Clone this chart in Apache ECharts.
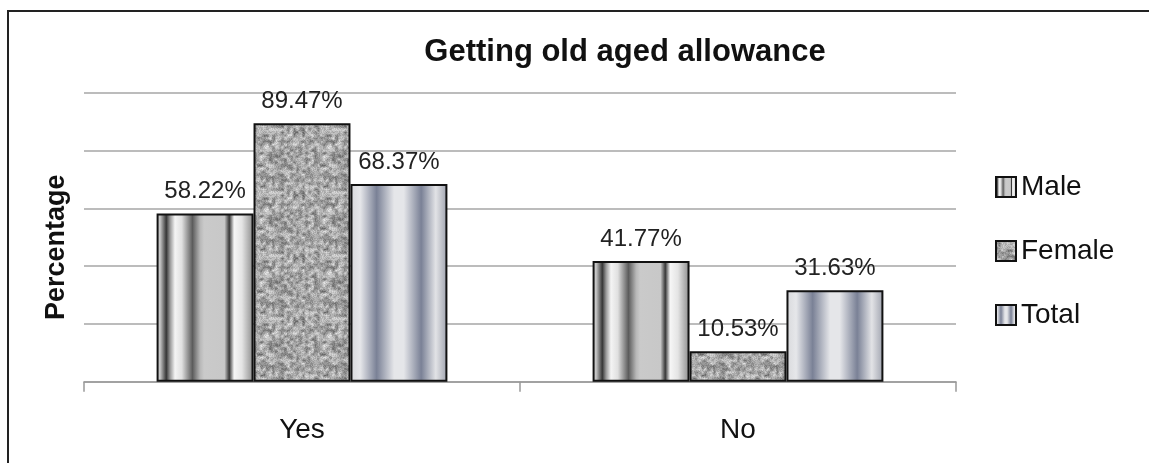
<!DOCTYPE html>
<html>
<head>
<meta charset="utf-8">
<script src="https://cdn.jsdelivr.net/npm/echarts@6/dist/echarts.min.js"></script>
<style>
  html, body { margin: 0; padding: 0; background: #fff; }
  #chart { width: 1149px; height: 463px; }
</style>
</head>
<body>
<div id="chart"></div>
<script>
const categories = ['Yes', 'No'];
const seriesNames = ['Male', 'Female', 'Total'];
const male = [58.22, 41.77];
const female = [89.47, 10.53];
const total = [68.37, 31.63];
const yTicks = [0, 20, 40, 60, 80, 100];

// stripe fills
const maleFill = new echarts.graphic.LinearGradient(0, 0, 1, 0, [
  { offset: 0, color: '#e4e4e4' },
  { offset: 0.04, color: '#bdbdbd' },
  { offset: 0.1, color: '#363636' },
  { offset: 0.14, color: '#9a9a9a' },
  { offset: 0.19, color: '#f4f4f4' },
  { offset: 0.26, color: '#e0e0e0' },
  { offset: 0.37, color: '#5c5c5c' },
  { offset: 0.45, color: '#b8b8b8' },
  { offset: 0.49, color: '#cacaca' },
  { offset: 0.7, color: '#c8c8c8' },
  { offset: 0.75, color: '#383838' },
  { offset: 0.8, color: '#f6f6f6' },
  { offset: 0.88, color: '#e4e4e4' },
  { offset: 1, color: '#8a8a8a' }
]);

const totalFill = new echarts.graphic.LinearGradient(0, 0, 1, 0, [
  { offset: 0, color: '#d8d9dc' },
  { offset: 0.1, color: '#e6e7ea' },
  { offset: 0.27, color: '#7a8196' },
  { offset: 0.45, color: '#e5e6e9' },
  { offset: 0.55, color: '#e5e6e9' },
  { offset: 0.73, color: '#7a8196' },
  { offset: 0.88, color: '#e2e3e6' },
  { offset: 1, color: '#9ea2ae' }
]);

// grey mottled texture for Female (deterministic hash noise)
function hash(x, y) {
  const s = Math.sin(x * 127.1 + y * 311.7) * 43758.5453;
  return s - Math.floor(s);
}
function makeNoise() {
  const size = 63, cell = 3, n = size / cell;
  const c = document.createElement('canvas');
  c.width = c.height = size;
  const ctx = c.getContext('2d');
  const img = ctx.createImageData(size, size);
  for (let y = 0; y < size; y++) {
    for (let x = 0; x < size; x++) {
      const gx = x / cell, gy = y / cell;
      const x0 = Math.floor(gx), y0 = Math.floor(gy);
      let fx = gx - x0, fy = gy - y0;
      fx = fx * fx * (3 - 2 * fx);
      fy = fy * fy * (3 - 2 * fy);
      const a = hash(x0 % n, y0 % n), b = hash((x0 + 1) % n, y0 % n);
      const c2 = hash(x0 % n, (y0 + 1) % n), d = hash((x0 + 1) % n, (y0 + 1) % n);
      const v = (a * (1 - fx) + b * fx) * (1 - fy) + (c2 * (1 - fx) + d * fx) * fy;
      const val = 0.7 * v + 0.3 * hash(x + 500, y + 900);
      const g = Math.round(95 + val * 140);
      const i = (y * size + x) * 4;
      img.data[i] = g; img.data[i + 1] = g; img.data[i + 2] = g; img.data[i + 3] = 255;
    }
  }
  ctx.putImageData(img, 0, 0);
  return c;
}
const femaleFill = { image: makeNoise(), repeat: 'repeat' };

const fills = [maleFill, femaleFill, totalFill];
const values = [male, female, total];

const chart = echarts.init(document.getElementById('chart'));

const option = {
  backgroundColor: '#fff',
  animation: false,
  textStyle: { fontFamily: 'Liberation Sans' },
  title: {
    text: 'Getting old aged allowance',
    left: 620,
    top: 32,
    textAlign: 'center',
    textStyle: { fontSize: 31, fontWeight: 'bold', color: '#111', fontFamily: 'Liberation Sans' }
  },
  graphic: [
    {
      type: 'rect',
      shape: { x: 8, y: 11, width: 1200, height: 500 },
      style: { fill: 'none', stroke: '#222', lineWidth: 2 },
      silent: true
    }
  ],
  legend: {
    orient: 'vertical',
    left: 990,
    top: 168,
    itemWidth: 20,
    itemHeight: 20,
    itemGap: 36,
    icon: 'rect',
    data: seriesNames,
    textStyle: { fontSize: 28, color: '#111' }
  },
  grid: { left: 84, right: 193, top: 92.7, bottom: 81.3 },
  xAxis: {
    type: 'category',
    data: categories,
    axisLine: { lineStyle: { color: '#999', width: 1.5 } },
    axisTick: { show: true, length: 10, lineStyle: { color: '#999', width: 1.5 } },
    axisLabel: { fontSize: 28, color: '#111', margin: 35 }
  },
  yAxis: {
    type: 'value',
    min: yTicks[0],
    max: yTicks[yTicks.length - 1],
    interval: yTicks[1] - yTicks[0],
    name: 'Percentage',
    nameLocation: 'middle',
    nameGap: 14,
    nameRotate: 90,
    nameTextStyle: { fontSize: 27, fontWeight: 'bold', color: '#111', padding: [0, 20, 0, 0] },
    axisLabel: { show: false },
    axisLine: { show: false },
    axisTick: { show: false },
    splitLine: { lineStyle: { color: '#a6a6a6', width: 1.5 } }
  },
  series: seriesNames.map((name, k) => ({
    name: name,
    type: 'bar',
    data: values[k],
    barGap: '0%',
    barCategoryGap: '33.3%',
    itemStyle: { color: fills[k], borderColor: '#111', borderWidth: 2 },
    label: {
      show: true,
      position: 'top',
      distance: 10,
      fontSize: 24,
      color: '#222',
      formatter: '{c}%'
    }
  }))
};

chart.setOption(option);
window.addEventListener('resize', () => chart.resize());
</script>
</body>
</html>
